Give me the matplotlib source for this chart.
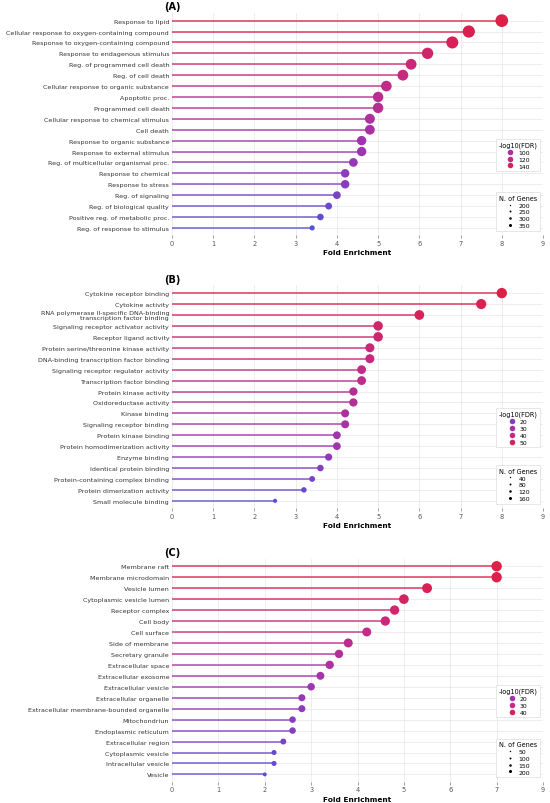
import matplotlib
matplotlib.use("Agg")
import matplotlib.pyplot as plt
from matplotlib.colors import LinearSegmentedColormap, Normalize
from matplotlib.lines import Line2D
import numpy as np

# (A) biological process
terms_a = [
    "Response to lipid",
    "Cellular response to oxygen-containing compound",
    "Response to oxygen-containing compound",
    "Response to endagenous stimulus",
    "Reg. of programmed cell death",
    "Reg. of cell death",
    "Cellular response to organic substance",
    "Apoptotic proc.",
    "Programmed cell death",
    "Cellular response to chemical stimulus",
    "Cell death",
    "Response to organic substance",
    "Response to external stimulus",
    "Reg. of multicellular organismal proc.",
    "Response to chemical",
    "Response to stress",
    "Reg. of signaling",
    "Reg. of biological quality",
    "Positive reg. of metabolic proc.",
    "Reg. of response to stimulus",
]
fold_a = [8.0, 7.2, 6.8, 6.2, 5.8, 5.6, 5.2, 5.0, 5.0, 4.8,
          4.8, 4.6, 4.6, 4.4, 4.2, 4.2, 4.0, 3.8, 3.6, 3.4]
fdr_a = [150, 145, 142, 132, 126, 122, 116, 112, 110, 102,
         100, 94, 92, 88, 84, 82, 76, 68, 62, 56]
genes_a = [370, 355, 350, 330, 315, 315, 310, 305, 305, 295,
           290, 280, 280, 265, 260, 260, 245, 230, 225, 205]
fdr_ticks_a = [100, 120, 140]
gene_ticks_a = [200, 250, 300, 350]

# (B) molecular function
terms_b = [
    "Cytokine receptor binding",
    "Cytokine activity",
    "RNA polymerase II-specific DNA-binding\ntranscription factor binding",
    "Signaling receptor activator activity",
    "Receptor ligand activity",
    "Protein serine/threonine kinase activity",
    "DNA-binding transcription factor binding",
    "Signaling receptor regulator activity",
    "Transcription factor binding",
    "Protein kinase activity",
    "Oxidoreductase activity",
    "Kinase binding",
    "Signaling receptor binding",
    "Protein kinase binding",
    "Protein homodimerization activity",
    "Enzyme binding",
    "Identical protein binding",
    "Protein-containing complex binding",
    "Protein dimerization activity",
    "Small molecule binding",
]
fold_b = [8.0, 7.5, 6.0, 5.0, 5.0, 4.8, 4.8, 4.6, 4.6, 4.4,
          4.4, 4.2, 4.2, 4.0, 4.0, 3.8, 3.6, 3.4, 3.2, 2.5]
fdr_b = [55, 52, 50, 46, 45, 42, 41, 38, 37, 34,
         33, 31, 30, 27, 26, 22, 19, 16, 13, 10]
genes_b = [165, 160, 150, 145, 145, 135, 135, 130, 130, 120,
           120, 115, 115, 110, 110, 100, 90, 80, 75, 60]
fdr_ticks_b = [20, 30, 40, 50]
gene_ticks_b = [40, 80, 120, 160]

# (C) cellular component
terms_c = [
    "Membrane raft",
    "Membrane microdomain",
    "Vesicle lumen",
    "Cytoplasmic vesicle lumen",
    "Receptor complex",
    "Cell body",
    "Cell surface",
    "Side of membrane",
    "Secretary granule",
    "Extracellular space",
    "Extracellular exosome",
    "Extracellular vesicle",
    "Extracellular organelle",
    "Extracellular membrane-bounded organelle",
    "Mitochondriun",
    "Endoplasmic reticulum",
    "Extracellular region",
    "Cytoplasmic vesicle",
    "Intracellular vesicle",
    "Vesicle",
]
fold_c = [7.0, 7.0, 5.5, 5.0, 4.8, 4.6, 4.2, 3.8, 3.6, 3.4,
          3.2, 3.0, 2.8, 2.8, 2.6, 2.6, 2.4, 2.2, 2.2, 2.0]
fdr_c = [44, 43, 41, 38, 35, 33, 30, 28, 25, 23,
         21, 19, 17, 16, 14, 13, 11, 7, 6, 4]
genes_c = [205, 205, 190, 185, 175, 175, 165, 165, 150, 150,
           140, 130, 120, 120, 110, 110, 100, 85, 85, 70]
fdr_ticks_c = [20, 30, 40]
gene_ticks_c = [50, 100, 150, 200]
xtick_labels_c = ["0", "1", "2", "3", "4", "5", "6", "7", "9"]

cmap = LinearSegmentedColormap.from_list(
    "bpr", ["#4658da", "#8e3abe", "#c42a86", "#e01e44"])


def lollipop(ax, terms, fold, fdr, genes, fdr_ticks, gene_ticks,
             fdr_lim, size_lim, xmax, tag, xlabels=None):
    y = np.arange(len(terms))
    norm = Normalize(*fdr_lim)
    colors = cmap(norm(np.array(fdr)))
    g = np.array(genes, dtype=float)
    sizes = size_lim[0] + (g - g.min()) / (g.max() - g.min()) * (size_lim[1] - size_lim[0])

    ax.hlines(y, 0, fold, colors=colors, linewidth=1.3, alpha=0.75, zorder=2)
    ax.scatter(fold, y, s=sizes, c=colors, edgecolors="none", zorder=3)

    ax.set_yticks(y)
    ax.set_yticklabels(terms, fontsize=4.6, color="#333333", linespacing=0.9)
    ax.set_ylim(len(terms) - 0.35, -0.7)
    ax.set_xlim(0, xmax)
    ax.set_xticks(range(xmax + 1))
    if xlabels is not None:
        ax.set_xticklabels(xlabels)
    ax.tick_params(axis="x", labelsize=4.8, length=2, width=0.4,
                   colors="#555555", pad=1.5)
    ax.tick_params(axis="y", length=0, pad=2)
    ax.grid(True, color="#e6e6e6", linewidth=0.5, zorder=0)
    ax.set_axisbelow(True)
    for s in ax.spines.values():
        s.set_visible(False)
    ax.set_xlabel("Fold Enrichment", fontsize=5.3, fontweight="bold",
                  labelpad=2.5)
    ax.text(0, 1.008, tag, transform=ax.transAxes, ha="center", va="bottom",
            fontsize=7, fontweight="bold")

    h1 = [Line2D([], [], marker="o", linestyle="", markersize=4,
                 markerfacecolor=cmap(norm(v)), markeredgecolor="none")
          for v in fdr_ticks]
    leg1 = ax.legend(h1, [str(v) for v in fdr_ticks], title="-log10(FDR)",
                     loc="center right", bbox_to_anchor=(1.0, 0.36),
                     fontsize=4.4, title_fontsize=4.7, frameon=True,
                     handletextpad=0.7, labelspacing=0.25, borderpad=0.45,
                     handlelength=1.3, fancybox=False, framealpha=1)
    leg1.get_frame().set_edgecolor("#dddddd")
    leg1.get_frame().set_linewidth(0.5)
    ax.add_artist(leg1)

    h2 = [Line2D([], [], marker="o", linestyle="", markersize=ms,
                 markerfacecolor="black", markeredgecolor="none")
          for ms in [1.0, 1.4, 1.8, 2.2]]
    leg2 = ax.legend(h2, [str(v) for v in gene_ticks], title="N. of Genes",
                     loc="lower right", bbox_to_anchor=(1.0, 0.005),
                     fontsize=4.4, title_fontsize=4.7, frameon=True,
                     handletextpad=0.7, labelspacing=0.25, borderpad=0.45,
                     handlelength=1.3, fancybox=False, framealpha=1)
    leg2.get_frame().set_edgecolor("#dddddd")
    leg2.get_frame().set_linewidth(0.5)


fig = plt.figure(figsize=(5.5, 8.04), dpi=100)
ax_a = fig.add_axes([0.3127, 0.7065, 0.6746, 0.2761])
ax_b = fig.add_axes([0.3127, 0.3670, 0.6746, 0.2767])
ax_c = fig.add_axes([0.3127, 0.0267, 0.6746, 0.2773])

lollipop(ax_a, terms_a, fold_a, fdr_a, genes_a, fdr_ticks_a, gene_ticks_a,
         (50, 152), (14, 84), 9, "(A)")
lollipop(ax_b, terms_b, fold_b, fdr_b, genes_b, fdr_ticks_b, gene_ticks_b,
         (4, 56), (9, 56), 9, "(B)")
lollipop(ax_c, terms_c, fold_c, fdr_c, genes_c, fdr_ticks_c, gene_ticks_c,
         (0, 45), (8, 56), 8, "(C)", xlabels=xtick_labels_c)

fig.savefig("out.png", dpi=100)
